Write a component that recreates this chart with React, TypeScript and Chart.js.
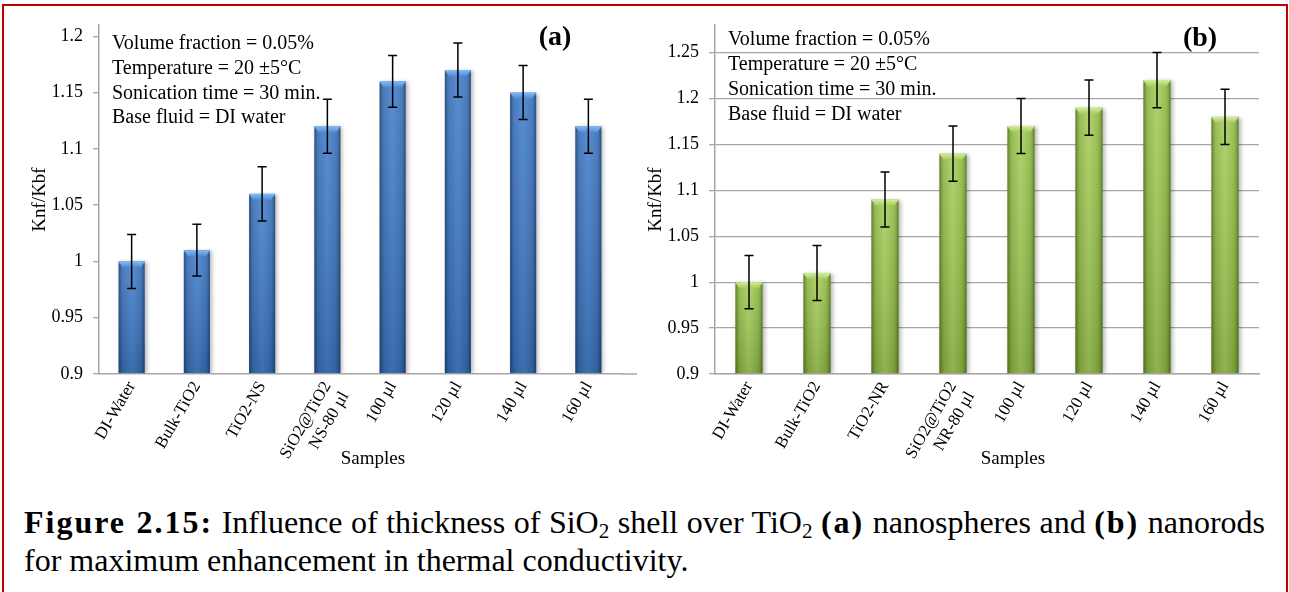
import React, { useEffect, useRef } from "react";
import { Chart, registerables } from "chart.js";

Chart.register(...registerables);

const FONT = "'Liberation Serif', 'Times New Roman', Times, serif";

// ---------- data ----------
const categoriesA: (string | string[])[] = ["DI-Water", "Bulk-TiO2", "TiO2-NS", ["SiO2@TiO2", "NS-80 µl"], "100 µl", "120 µl", "140 µl", "160 µl"];
const valuesA = [1.0, 1.01, 1.06, 1.12, 1.16, 1.17, 1.15, 1.12];
const errorsA = [0.024, 0.023, 0.024, 0.024, 0.023, 0.024, 0.024, 0.024];
const ticksA = [0.9, 0.95, 1, 1.05, 1.1, 1.15, 1.2];

const categoriesB: (string | string[])[] = ["DI-Water", "Bulk-TiO2", "TiO2-NR", ["SiO2@TiO2", "NR-80 µl"], "100 µl", "120 µl", "140 µl", "160 µl"];
const valuesB = [1.0, 1.01, 1.09, 1.14, 1.17, 1.19, 1.22, 1.18];
const errorsB = [0.029, 0.03, 0.03, 0.03, 0.03, 0.03, 0.03, 0.03];
const ticksB = [0.9, 0.95, 1, 1.05, 1.1, 1.15, 1.2, 1.25];

const noteLines = ["Volume fraction = 0.05%", "Temperature = 20 ±5°C", "Sonication time = 30 min.", "Base fluid = DI water"];
const yTitle = "Knf/Kbf";
const xTitle = "Samples";

// ---------- plugin ----------
const decorPlugin: any = {
  id: "decor",
  afterDatasetsDraw(chart: any, _args: any, opts: any) {
    const ctx = chart.ctx;
    const area = chart.chartArea;
    const meta = chart.getDatasetMeta(0);
    const ys = chart.scales.y;
    ctx.save();
    if (opts.extendAxis) {
      ctx.strokeStyle = "#A6A6A6";
      ctx.lineWidth = 1.5;
      ctx.beginPath();
      ctx.moveTo(area.right, area.bottom);
      ctx.lineTo(area.right + opts.extendAxis, area.bottom);
      ctx.stroke();
    }
    meta.data.forEach((bar: any, i: number) => {
      const props = bar.getProps(["x", "y", "base", "width"], true);
      const x = props.x;
      const y = props.y;
      const width = props.width;
      const base = Math.min(props.base, area.bottom - 0.75);
      const x0 = x - width / 2;
      const x1 = x + width / 2;
      const h = base - y;
      // shadow + body
      ctx.save();
      ctx.beginPath();
      ctx.rect(area.left + 1, area.top - 5, area.right - area.left + 10, area.bottom - area.top + 4);
      ctx.clip();
      ctx.shadowColor = "rgba(0,0,0,0.28)";
      ctx.shadowBlur = 4;
      ctx.shadowOffsetX = 2;
      ctx.shadowOffsetY = 1;
      const g = ctx.createLinearGradient(x0, 0, x1, 0);
      g.addColorStop(0, opts.edge);
      g.addColorStop(0.18, opts.mid);
      g.addColorStop(0.5, opts.center);
      g.addColorStop(0.82, opts.mid);
      g.addColorStop(1, opts.edge);
      ctx.fillStyle = g;
      ctx.fillRect(x0, y, width, h);
      ctx.restore();
      // vertical shading
      const v = ctx.createLinearGradient(0, y, 0, base);
      v.addColorStop(0, "rgba(255,255,255,0.10)");
      v.addColorStop(1, "rgba(0,0,0,0.14)");
      ctx.fillStyle = v;
      ctx.fillRect(x0, y, width, h);
      // top bevel
      const b = ctx.createLinearGradient(0, y, 0, y + 6);
      b.addColorStop(0, opts.bevelTop);
      b.addColorStop(1, opts.bevelBottom);
      ctx.fillStyle = b;
      ctx.beginPath();
      ctx.moveTo(x0, y);
      ctx.lineTo(x1, y);
      ctx.lineTo(x1 - 4, y + 6);
      ctx.lineTo(x0 + 4, y + 6);
      ctx.closePath();
      ctx.fill();
      // side bevels
      ctx.fillStyle = opts.side;
      ctx.fillRect(x0, y + 3, 2, h - 3);
      ctx.fillRect(x1 - 2, y + 3, 2, h - 3);
      // error bar
      const val = opts.values[i];
      const err = opts.errors[i];
      const yt = ys.getPixelForValue(val + err);
      const yb = ys.getPixelForValue(val - err);
      ctx.strokeStyle = "#000";
      ctx.lineWidth = 1.5;
      ctx.beginPath();
      ctx.moveTo(x, yt);
      ctx.lineTo(x, yb);
      ctx.moveTo(x - 4.5, yt);
      ctx.lineTo(x + 4.5, yt);
      ctx.moveTo(x - 4.5, yb);
      ctx.lineTo(x + 4.5, yb);
      ctx.stroke();
    });
    ctx.restore();
  },
  afterDraw(chart: any, _args: any, opts: any) {
    const ctx = chart.ctx;
    ctx.save();
    ctx.fillStyle = "#000";
    ctx.textBaseline = "middle";
    ctx.textAlign = "left";
    ctx.font = `20px ${FONT}`;
    opts.notes.forEach((t: string, i: number) => {
      ctx.fillText(t, opts.noteX, opts.noteY + i * opts.noteGap);
    });
    ctx.textAlign = "center";
    ctx.font = `bold 28px ${FONT}`;
    ctx.fillText(opts.tag, opts.tagX, opts.tagY);
    ctx.font = `19px ${FONT}`;
    ctx.fillText(opts.xTitle, opts.xTitleX, opts.xTitleY);
    ctx.restore();
  },
};

type PanelProps = {
  left: number;
  width: number;
  labels: (string | string[])[];
  values: number[];
  errors: number[];
  ticks: number[];
  max: number;
  grid: boolean;
  padLeft: number;
  padRight: number;
  yWidth: number;
  titlePad: number;
  colors: { edge: string; mid: string; center: string; bevelTop: string; bevelBottom: string; side: string };
  tag: string;
  tagX: number;
  tagY: number;
  noteX: number;
  noteY: number;
  noteGap: number;
  extendAxis: number;
};

function Panel(p: PanelProps) {
  const ref = useRef<HTMLCanvasElement>(null);
  useEffect(() => {
    if (!ref.current) return;
    const chart = new Chart(ref.current, {
      type: "bar",
      data: {
        labels: p.labels,
        datasets: [
          {
            data: p.values,
            backgroundColor: "rgba(0,0,0,0)",
            borderWidth: 0,
            barPercentage: 0.4,
            categoryPercentage: 1,
          },
        ],
      },
      plugins: [decorPlugin],
      options: {
        responsive: false,
        animation: false,
        layout: { padding: { left: p.padLeft, right: p.padRight, top: 25, bottom: 0 } },
        plugins: {
          legend: { display: false },
          tooltip: { enabled: false },
          decor: {
            ...p.colors,
            values: p.values,
            errors: p.errors,
            notes: noteLines,
            noteX: p.noteX,
            noteY: p.noteY,
            noteGap: p.noteGap,
            tag: p.tag,
            tagX: p.tagX,
            tagY: p.tagY,
            xTitle: xTitle,
            xTitleX: 373,
            xTitleY: 459,
            extendAxis: p.extendAxis,
          },
        } as any,
        scales: {
          x: {
            grid: { display: false, drawTicks: false },
            border: { display: true, color: "#A6A6A6", width: 1.5 },
            ticks: {
              font: { family: FONT, size: 17 },
              color: "#000",
              minRotation: 60,
              maxRotation: 60,
              padding: 4,
              autoSkip: false,
            },
            afterFit: (s: any) => {
              s.height = 106;
            },
          },
          y: {
            min: 0.9,
            max: p.max,
            afterBuildTicks: (s: any) => {
              s.ticks = p.ticks.map((v) => ({ value: v }));
            },
            grid: {
              display: true,
              drawOnChartArea: p.grid,
              drawTicks: true,
              tickLength: 6,
              color: "#A6A6A6",
              lineWidth: 1.3,
            },
            border: { display: true, color: "#A6A6A6", width: 1.5 },
            ticks: {
              font: { family: FONT, size: 18 },
              color: "#000",
              padding: 10,
              callback: (v: any) => String(v),
            },
            title: {
              display: true,
              text: yTitle,
              font: { family: FONT, size: 19 },
              color: "#000",
              padding: { top: p.titlePad, bottom: 0 },
            },
            afterFit: (s: any) => {
              s.width = p.yWidth;
            },
          },
        },
      } as any,
    });
    return () => chart.destroy();
  }, []);
  return (
    <canvas
      ref={ref}
      width={p.width}
      height={480}
      style={{ position: "absolute", left: p.left, top: 0, width: p.width, height: 480 }}
    />
  );
}

const sub = (t: string) => (
  <sub style={{ fontSize: "0.66em", verticalAlign: "-0.22em", lineHeight: 0 }}>{t}</sub>
);

const boldStyle = { letterSpacing: "2px" };

export default function App() {
  return (
    <div
      style={{
        position: "absolute",
        left: 0,
        top: 0,
        width: 1289,
        height: 592,
        overflow: "hidden",
        background: "#fff",
      }}
    >
      <Panel
        left={0}
        width={645}
        labels={categoriesA}
        values={valuesA}
        errors={errorsA}
        ticks={ticksA}
        max={1.21}
        grid={false}
        padLeft={25}
        padRight={24}
        yWidth={74}
        titlePad={4}
        colors={{
          edge: "#29548B",
          mid: "#3970B9",
          center: "#4581CB",
          bevelTop: "#86BBF2",
          bevelBottom: "#4E8CD8",
          side: "rgba(20,50,100,0.25)",
        }}
        tag="(a)"
        tagX={555}
        tagY={38}
        noteX={112}
        noteY={44}
        noteGap={24.7}
        extendAxis={16}
      />
      <Panel
        left={640}
        width={649}
        labels={categoriesB}
        values={valuesB}
        errors={errorsB}
        ticks={ticksB}
        max={1.28}
        grid={true}
        padLeft={5}
        padRight={30}
        yWidth={70}
        titlePad={0}
        colors={{
          edge: "#6C8E2E",
          mid: "#8FB845",
          center: "#A8CE5E",
          bevelTop: "#D4EC9E",
          bevelBottom: "#A6CC5C",
          side: "rgba(60,80,20,0.22)",
        }}
        tag="(b)"
        tagX={560}
        tagY={39}
        noteX={88}
        noteY={40}
        noteGap={24.9}
        extendAxis={0}
      />
      <div
        style={{
          position: "absolute",
          left: 24,
          top: 503,
          width: 1241,
          fontFamily: FONT,
          fontSize: 32,
          lineHeight: "38px",
          color: "#000",
        }}
      >
        <div style={{ textAlign: "justify", textAlignLast: "justify", whiteSpace: "nowrap" } as any}>
          <b style={boldStyle}>Figure 2.15:</b> Influence of thickness of SiO{sub("2")} shell over TiO{sub("2")}{" "}
          <b style={boldStyle}>(a)</b> nanospheres and <b style={boldStyle}>(b)</b> nanorods
        </div>
        <div>for maximum enhancement in thermal conductivity.</div>
      </div>
      <div
        style={{
          position: "absolute",
          left: 2,
          top: 4,
          width: 1286,
          height: 620,
          border: "2px solid #C00000",
          boxSizing: "border-box",
          pointerEvents: "none",
        }}
      />
    </div>
  );
}
